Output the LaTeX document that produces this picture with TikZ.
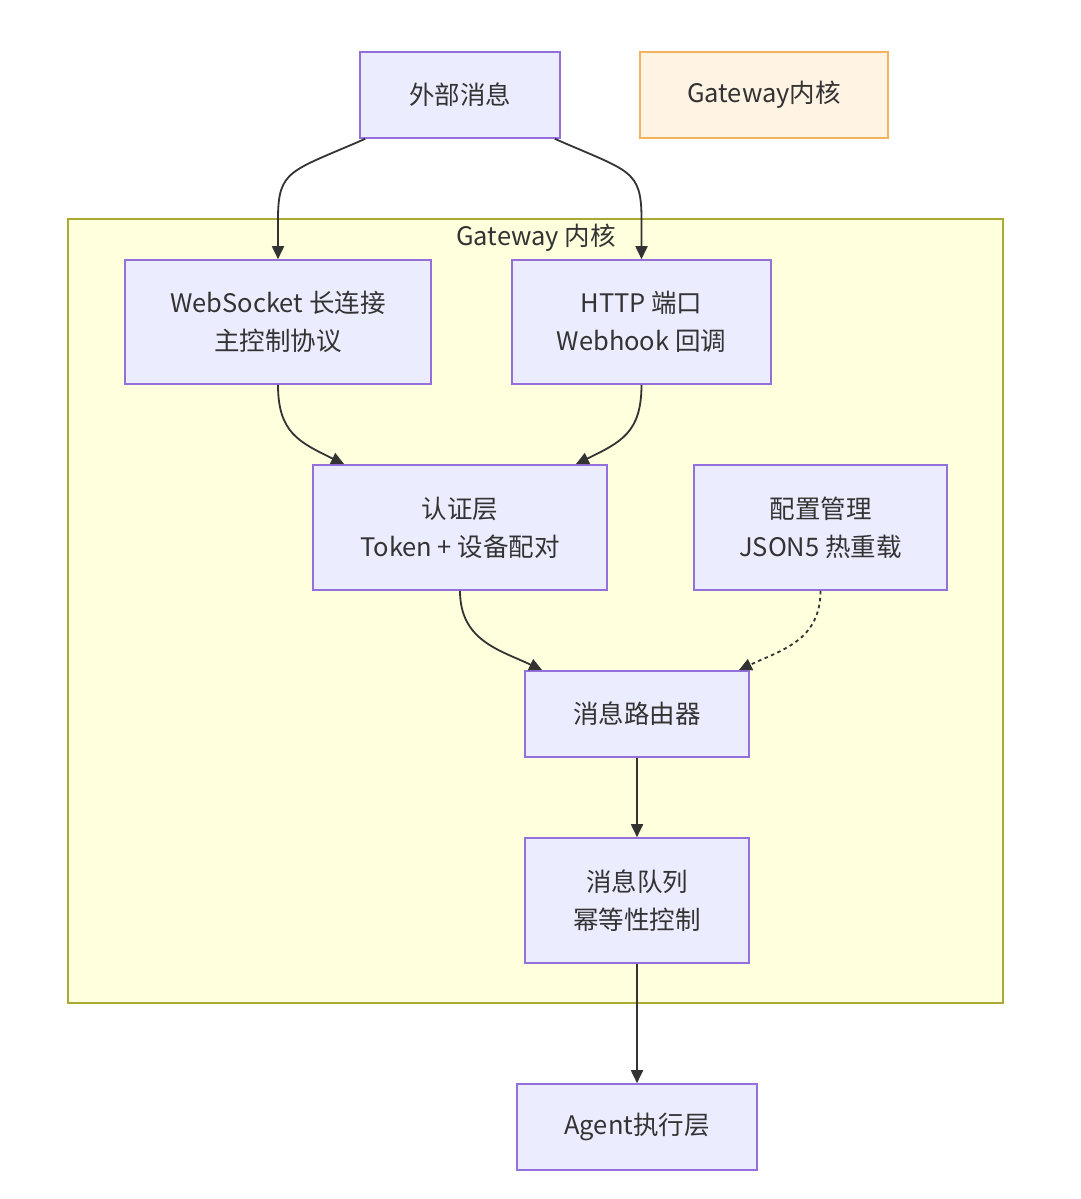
\documentclass[tikz,border=0pt]{standalone}
\usepackage{fontspec}
\setmainfont{Noto Sans CJK SC}
\usetikzlibrary{arrows.meta,calc}
\definecolor{nodefill}{HTML}{ECECFF}
\definecolor{nodeline}{HTML}{9370DB}
\definecolor{clfill}{HTML}{FFFFDE}
\definecolor{clline}{HTML}{AAAA33}
\definecolor{lgfill}{HTML}{FFF4E3}
\definecolor{lgline}{HTML}{F2B35C}
\definecolor{ink}{HTML}{333333}
\tikzset{
  box/.style={draw=nodeline, fill=nodefill, line width=1.6pt, inner sep=0pt,
    align=center, text=ink, font=\fontsize{25.5}{38}\selectfont},
  edge/.style={draw=ink, line width=1.8pt, -{Triangle[length=13pt,width=12pt]}},
  dotedge/.style={edge, dash pattern=on 3.5pt off 3.5pt},
}
\begin{document}
\begin{tikzpicture}[x=1pt,y=-1pt]
\useasboundingbox (0,0) rectangle (1080,1199);
\fill[white] (0,0) rectangle (1080,1199);
% cluster
\draw[draw=clline, fill=clfill, line width=1.5pt] (68,219) rectangle (1003,1003);
\node[text=ink, font=\fontsize{25.5}{30}\selectfont] (cltitle) at (536,238) {Gateway 内核};
% nodes
\node[box, minimum width=200pt, minimum height=86pt] (ext) at (460,95) {外部消息};
\node[box, draw=lgline, fill=lgfill, minimum width=248pt, minimum height=86pt] (legend) at (764,95) {Gateway内核};
\node[box, minimum width=306pt, minimum height=124pt] (ws) at (278,322) {WebSocket 长连接\\主控制协议};
\node[box, minimum width=259pt, minimum height=124pt] (http) at (641.5,322) {HTTP 端口\\Webhook 回调};
\node[box, minimum width=294pt, minimum height=125pt] (auth) at (460,527.5) {认证层\\Token + 设备配对};
\node[box, minimum width=253pt, minimum height=125pt] (cfg) at (820.5,527.5) {配置管理\\JSON5 热重载};
\node[box, minimum width=224pt, minimum height=86pt] (router) at (637,714) {消息路由器};
\node[box, minimum width=224pt, minimum height=125pt] (queue) at (637,900.5) {消息队列\\幂等性控制};
\node[box, minimum width=240pt, minimum height=86pt] (agent) at (637,1127) {Agent执行层};
% edges
\draw[edge] ([xshift=6pt]ext.south west) .. controls +(-75,33) and +(0,-50) .. ($(ws.north)+(0,-40)$) -- (ws.north);
\draw[edge] ([xshift=-6pt]ext.south east) .. controls +(75,33) and +(0,-50) .. ($(http.north)+(0,-40)$) -- (http.north);
\draw[edge] (ws.south) .. controls +(0,48) and +(-45,-22) .. ([xshift=32pt]auth.north west);
\draw[edge] (http.south) .. controls +(0,48) and +(45,-22) .. ([xshift=-32pt]auth.north east);
\draw[edge] (auth.south) .. controls +(0,50) and +(-42,-20) .. ([xshift=18pt]router.north west);
\draw[dotedge] (cfg.south) .. controls +(0,50) and +(42,-20) .. ([xshift=-11pt]router.north east);
\draw[edge] (router.south) -- (queue.north);
\draw[edge] (queue.south) -- (agent.north);
\end{tikzpicture}
\end{document}
